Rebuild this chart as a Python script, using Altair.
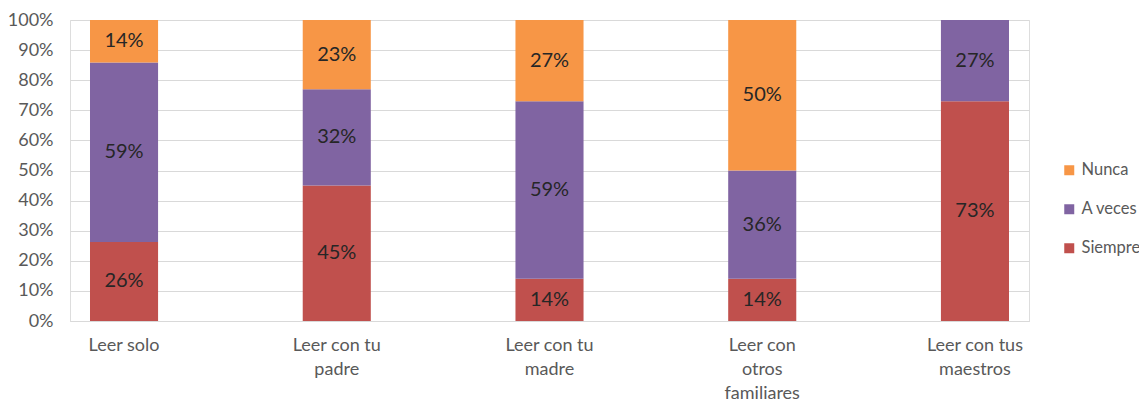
import altair as alt
import pandas as pd
import json

categories = ["Leer solo", "Leer con tu padre", "Leer con tu madre",
              "Leer con otros familiares", "Leer con tus maestros"]
label_lines = [["Leer solo"], ["Leer con tu", "padre"], ["Leer con tu", "madre"],
               ["Leer con", "otros", "familiares"], ["Leer con tus", "maestros"]]
series = ["Siempre", "A veces", "Nunca"]
siempre = [26, 45, 14, 14, 73]
a_veces = [59, 32, 59, 36, 27]
nunca = [14, 23, 27, 50, 0]
colors = ["#C0504D", "#8064A2", "#F79646"]

rows = []
for i, c in enumerate(categories):
    for j, (s, vals) in enumerate(zip(series, [siempre, a_veces, nunca])):
        rows.append({"cat": c, "serie": s, "ord": j, "value": vals[i]})
df = pd.DataFrame(rows)

label_map = json.dumps({c: l for c, l in zip(categories, label_lines)}, ensure_ascii=False)

font = "Lato"
gray = "#595959"

base = alt.Chart(df).transform_filter("datum.value > 0").transform_stack(
    stack="value", as_=["y0", "y1"], groupby=["cat"],
    sort=[alt.SortField("ord", "ascending")], offset="normalize"
).transform_calculate(
    mid="(datum.y0 + datum.y1) / 2", lbl="datum.value + '%'"
)

xaxis = alt.Axis(labelAngle=0, labelExpr=f"{label_map}[datum.label]",
                 labelFont=font, labelFontSize=18, labelColor=gray,
                 labelLineHeight=24, labelPadding=15, labelBaseline="top",
                 labelOverlap=False, labelBound=False,
                 ticks=False, domainColor="#D9D9D9", grid=False)
yaxis = alt.Axis(format=".0%", values=[i / 10 for i in range(11)],
                 labelFont=font, labelFontSize=18, labelColor=gray,
                 labelPadding=17, ticks=False, domain=False,
                 labelOverlap=False, labelBound=False,
                 gridColor="#D9D9D9", gridWidth=1)
xscale = alt.Scale(paddingInner=0.68, paddingOuter=0.094)
yscale = alt.Scale(domain=[0, 1])

bars = base.mark_bar().encode(
    x=alt.X("cat:N", sort=categories, title=None, scale=xscale, axis=xaxis),
    y=alt.Y("y0:Q", title=None, scale=yscale, axis=yaxis),
    y2="y1:Q",
    color=alt.Color("serie:N", scale=alt.Scale(domain=series, range=colors),
                    sort=["Nunca", "A veces", "Siempre"],
                    legend=alt.Legend(title=None, orient="none", legendX=991, legendY=142,
                                      values=["Nunca", "A veces", "Siempre"],
                                      symbolType="square", symbolSize=100,
                                      symbolStrokeWidth=0, labelFont=font,
                                      labelFontSize=16.5, labelColor=gray,
                                      rowPadding=22, labelOffset=4)),
)

texts = base.mark_text(font=font, fontSize=20, color="#262626").encode(
    x=alt.X("cat:N", sort=categories, title=None, scale=xscale, axis=xaxis),
    y=alt.Y("mid:Q", title=None, scale=yscale, axis=yaxis),
    text="lbl:N",
)

chart = alt.layer(bars, texts).properties(
    width=959, height=301,
    autosize=alt.AutoSizeParams(type="none"),
    padding={"left": 62, "top": 12, "right": 110, "bottom": 80},
).configure_view(strokeWidth=0, stroke="transparent").configure(background="white")

chart.save("out.html", embed_options={"renderer": "svg", "actions": False})
